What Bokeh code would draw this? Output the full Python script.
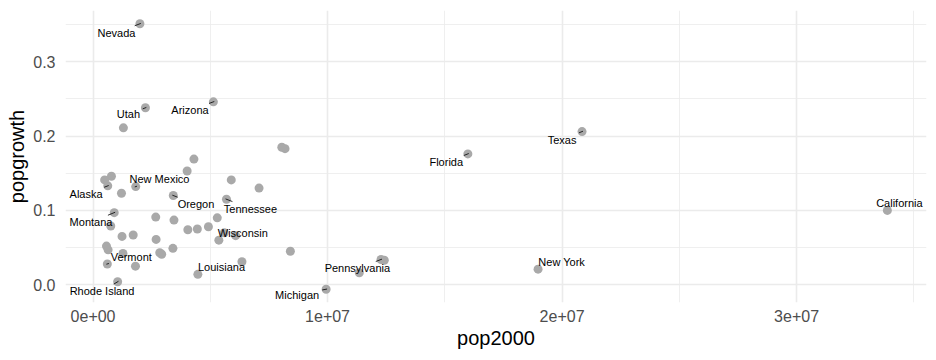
import math
from bokeh.plotting import figure
from bokeh.models import ColumnDataSource, Range1d, FixedTicker
from bokeh.embed import file_html
from bokeh.resources import INLINE

# ---------------- data ----------------
states = ["Alabama", "Alaska", "Arizona", "Arkansas", "California", "Colorado",
          "Connecticut", "Delaware", "District of Columbia", "Florida", "Georgia",
          "Hawaii", "Idaho", "Illinois", "Indiana", "Iowa", "Kansas", "Kentucky",
          "Louisiana", "Maine", "Maryland", "Massachusetts", "Michigan", "Minnesota",
          "Mississippi", "Missouri", "Montana", "Nebraska", "Nevada", "New Hampshire",
          "New Jersey", "New Mexico", "New York", "North Carolina", "North Dakota",
          "Ohio", "Oklahoma", "Oregon", "Pennsylvania", "Rhode Island",
          "South Carolina", "South Dakota", "Tennessee", "Texas", "Utah", "Vermont",
          "Virginia", "Washington", "West Virginia", "Wisconsin", "Wyoming"]
pop2000 = [4447100, 626932, 5130632, 2673400, 33871648, 4301261,
           3405565, 783600, 572059, 15982378, 8186453,
           1211537, 1293953, 12419293, 6080485, 2926324, 2688418, 4041769,
           4468976, 1274923, 5296486, 6349097, 9938444, 4919479,
           2844658, 5595211, 902195, 1711263, 1998257, 1235786,
           8414350, 1819046, 18976457, 8049313, 642200,
           11353140, 3450654, 3421399, 12281054, 1048319,
           4012012, 754844, 5689283, 20851820, 2233169, 608827,
           7078515, 5894121, 1808344, 5363675, 493782]
popgrowth = [0.075, 0.133, 0.246, 0.091, 0.100, 0.169,
             0.049, 0.146, 0.052, 0.176, 0.183,
             0.123, 0.211, 0.033, 0.066, 0.041, 0.061, 0.074,
             0.014, 0.042, 0.090, 0.031, -0.006, 0.078,
             0.043, 0.070, 0.097, 0.067, 0.351, 0.065,
             0.045, 0.132, 0.021, 0.185, 0.047,
             0.016, 0.087, 0.120, 0.034, 0.004,
             0.153, 0.079, 0.115, 0.206, 0.238, 0.028,
             0.130, 0.141, 0.025, 0.060, 0.141]

labelled = ["Nevada", "Utah", "Arizona", "Texas", "Florida", "California",
            "New Mexico", "Alaska", "Oregon", "Tennessee", "Montana", "Wisconsin",
            "Vermont", "Louisiana", "Rhode Island", "Michigan", "Pennsylvania",
            "New York"]

x_ticks = [0, 1e7, 2e7, 3e7]
x_tick_labels = ["0e+00", "1e+07", "2e+07", "3e+07"]
y_ticks = [0.0, 0.1, 0.2, 0.3]
y_tick_labels = ["0.0", "0.1", "0.2", "0.3"]

# ---------------- layout (label placement, screen pixels) ----------------
label_offset = {
    "Nevada": (-23.5, 9), "Utah": (-17, 6.6), "Arizona": (-23.4, 8.6),
    "Texas": (-20, 8), "Florida": (-21.6, 8.6), "California": (12, -7),
    "New Mexico": (23.8, -7.4), "Alaska": (-21.7, 8.4), "Oregon": (22.7, 8.7),
    "Tennessee": (24, 9.3), "Montana": (-23.2, 9.6), "Wisconsin": (24, -7.3),
    "Vermont": (24, -6.5), "Louisiana": (23.6, -7), "Rhode Island": (-15.6, 9.3),
    "Michigan": (-29, 5.5), "Pennsylvania": (-23.7, 9), "New York": (23.6, -7),
}

W, H = 936, 360
BL, BR, BT, BB = 65, 10, 10, 58
FW, FH = W - BL - BR, H - BT - BB

xmin, xmax = min(pop2000), max(pop2000)
ymin, ymax = min(popgrowth), max(popgrowth)
x_lo, x_hi = xmin - 0.05 * (xmax - xmin), xmax + 0.05 * (xmax - xmin)
y_lo, y_hi = ymin - 0.05 * (ymax - ymin), ymax + 0.05 * (ymax - ymin)
xpp = (x_hi - x_lo) / FW
ypp = (y_hi - y_lo) / FH

FONT = "Liberation Sans"

p = figure(width=W, height=H, output_backend="svg", toolbar_location=None,
           x_range=Range1d(x_lo, x_hi), y_range=Range1d(y_lo, y_hi),
           min_border_left=BL, min_border_right=BR, min_border_top=BT,
           min_border_bottom=BB)
p.outline_line_color = None
p.background_fill_color = "white"
p.border_fill_color = "white"

p.xaxis.ticker = FixedTicker(ticks=x_ticks,
                             minor_ticks=[t + 0.5e7 for t in x_ticks])
p.yaxis.ticker = FixedTicker(ticks=y_ticks,
                             minor_ticks=[t + 0.05 for t in y_ticks])
p.xaxis.major_label_overrides = {t: s for t, s in zip(x_ticks, x_tick_labels)}
p.yaxis.major_label_overrides = {t: s for t, s in zip(y_ticks, y_tick_labels)}

for ax in (p.xaxis, p.yaxis):
    ax.axis_line_color = None
    ax.major_tick_line_color = None
    ax.minor_tick_line_color = None
    ax.major_tick_out = 0
    ax.major_tick_in = 0
    ax.minor_tick_out = 0
    ax.major_label_text_font = FONT
    ax.major_label_text_font_size = "16px"
    ax.major_label_text_color = "#4D4D4D"
    ax.axis_label_text_font = FONT
    ax.axis_label_text_font_size = "20px"
    ax.axis_label_text_font_style = "normal"
    ax.axis_label_text_color = "black"

p.xaxis.axis_label = "pop2000"
p.yaxis.axis_label = "popgrowth"
p.xaxis.major_label_standoff = 7
p.xaxis.axis_label_standoff = 2
p.yaxis.major_label_standoff = 10
p.yaxis.axis_label_standoff = 2
p.yaxis.major_label_orientation = "horizontal"

for g in (p.xgrid, p.ygrid):
    g.grid_line_color = "#EBEBEB"
    g.grid_line_width = 1.6
    g.minor_grid_line_color = "#EBEBEB"
    g.minor_grid_line_width = 0.8

src = ColumnDataSource(dict(x=pop2000, y=popgrowth, name=states))
p.scatter("x", "y", source=src, size=9, fill_color="#A9A9A9",
          line_color=None)

# label positions and leader segments
lx, ly, lt, sx0, sy0, sx1, sy1 = [], [], [], [], [], [], []
for nm in labelled:
    i = states.index(nm)
    px, py = pop2000[i], popgrowth[i]
    dx, dy = label_offset[nm]
    cx, cy = px + dx * xpp, py - dy * ypp
    lx.append(cx); ly.append(cy); lt.append(nm)
    half_w = len(nm) * 5.4 / 2 + 3.5
    half_h = 7.0
    vx, vy = -dx, -dy
    t = min(half_w / abs(vx) if vx else 1e9, half_h / abs(vy) if vy else 1e9)
    if t < 0.95:
        bx, by = dx + t * vx, dy + t * vy
        sx0.append(px + bx * xpp); sy0.append(py - by * ypp)
        sx1.append(px - dx / math.hypot(dx, dy) * xpp)
        sy1.append(py + dy / math.hypot(dx, dy) * ypp)

p.segment(x0=sx0, y0=sy0, x1=sx1, y1=sy1, line_color="black", line_width=0.8)
p.text(x=lx, y=ly, text=lt, text_font=dict(value=FONT), text_font_size="11px",
       text_align="center", text_baseline="middle", text_color="black")

open("out.html", "w").write(file_html(p, INLINE))
